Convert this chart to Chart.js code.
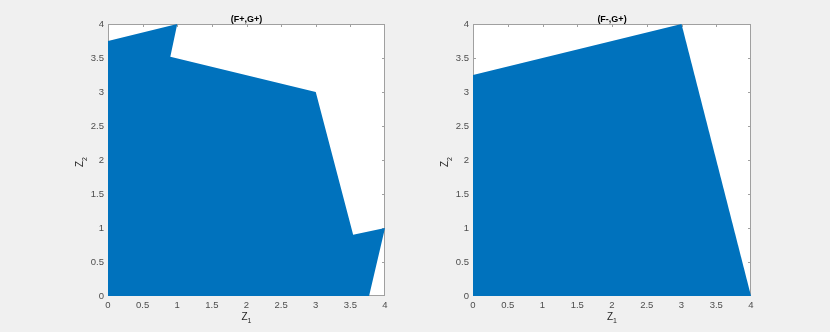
<!DOCTYPE html>
<html>
<head>
<meta charset="utf-8">
<script src="https://cdn.jsdelivr.net/npm/chart.js@4/dist/chart.umd.min.js"></script>
<style>
  html, body { margin: 0; padding: 0; background: #f0f0f0; }
  #wrap { position: relative; width: 830px; height: 332px; }
  #wrap canvas { position: absolute; top: 0; }
</style>
</head>
<body>
<div id="wrap">
  <canvas id="chartLeft" width="415" height="332" style="left:0"></canvas>
  <canvas id="chartRight" width="415" height="332" style="left:415px"></canvas>
</div>
<script>
// polygon corners (z1, z2)
const leftZ1 = [0, 1, 0.9, 3, 3.54, 4, 3.77, 0];
const leftZ2 = [3.75, 4, 3.52, 3, 0.9, 1, 0, 0];
const rightZ1 = [0, 3, 4, 0];
const rightZ2 = [3.25, 4, 0, 0];
const tickValues = [0, 0.5, 1, 1.5, 2, 2.5, 3, 3.5, 4];
const titles = ['(F+,G+)', '(F-,G+)'];

const FONT = "'Liberation Sans', Arial, Helvetica, sans-serif";
const BLUE = '#0072BD';
const TICK = 3;

/* ===== box, inward ticks, title and axis labels (matlab look) ===== */
const axesBoxPlugin = {
    id: 'axesBox',
    beforeDatasetsDraw(chart) {
        const { ctx, chartArea: a, scales } = chart;
        ctx.save();
        ctx.fillStyle = '#ffffff';
        ctx.fillRect(a.left, a.top, a.width, a.height);

        ctx.strokeStyle = '#a0a0a0';
        ctx.lineWidth = 1;
        ctx.strokeRect(a.left + 0.5, a.top + 0.5, a.width - 1, a.height - 1);

        ctx.beginPath();
        scales.x.ticks.forEach(t => {
            let px = Math.round(scales.x.getPixelForValue(t.value));
            px = Math.min(Math.max(px, a.left), a.right - 1) + 0.5;
            ctx.moveTo(px, a.bottom); ctx.lineTo(px, a.bottom - TICK);
            ctx.moveTo(px, a.top); ctx.lineTo(px, a.top + TICK);
        });
        scales.y.ticks.forEach(t => {
            let py = Math.round(scales.y.getPixelForValue(t.value));
            py = Math.min(Math.max(py, a.top), a.bottom - 1) + 0.5;
            ctx.moveTo(a.left, py); ctx.lineTo(a.left + TICK, py);
            ctx.moveTo(a.right, py); ctx.lineTo(a.right - TICK, py);
        });
        ctx.stroke();
        ctx.restore();
    },
    afterDraw(chart, args, opts) {
        const { ctx, chartArea: a } = chart;
        const cx = (a.left + a.right) / 2;
        const cy = (a.top + a.bottom) / 2;
        ctx.save();
        ctx.fillStyle = '#000000';
        ctx.textAlign = 'center';
        ctx.textBaseline = 'alphabetic';
        ctx.font = 'bold 9px ' + FONT;
        ctx.fillText(opts.title, cx, a.top - 2);

        // z_1 under the x axis
        ctx.fillStyle = '#262626';
        ctx.textAlign = 'left';
        ctx.font = '10px ' + FONT;
        const wZ = ctx.measureText('Z').width;
        ctx.font = '7px ' + FONT;
        const wSub = ctx.measureText('1').width;
        let x0 = cx - (wZ + wSub) / 2;
        ctx.font = '10px ' + FONT;
        ctx.fillText('Z', x0, a.bottom + 24);
        ctx.font = '7px ' + FONT;
        ctx.fillText('1', x0 + wZ, a.bottom + 27);

        // z_2 next to the y axis
        ctx.translate(a.left - 25, cy + 2);
        ctx.rotate(-Math.PI / 2);
        x0 = -(wZ + wSub) / 2;
        ctx.font = '10px ' + FONT;
        ctx.fillText('Z', x0, 0);
        ctx.font = '7px ' + FONT;
        ctx.fillText('2', x0 + wZ, 3.5);
        ctx.restore();
    }
};

function makeScale(axis, size) {
    return {
        type: 'linear',
        min: 0,
        max: 4,
        afterBuildTicks: scale => { scale.ticks = tickValues.map(v => ({ value: v })); },
        afterFit: scale => {
            if (axis === 'x') scale.height = size; else scale.width = size;
        },
        grid: { display: false, drawTicks: false },
        border: { display: false },
        ticks: {
            autoSkip: false,
            maxRotation: 0,
            padding: 4,
            color: '#4d4d4d',
            font: { family: FONT, size: 9.5 },
            callback: v => String(v)
        }
    };
}

function makeChart(id, z1, z2, title, yWidth, padRight) {
    const points = z1.map((v, i) => ({ x: v, y: z2[i] }));
    return new Chart(document.getElementById(id), {
        type: 'scatter',
        data: {
            datasets: [{
                data: points,
                showLine: true,
                fill: 'shape',
                backgroundColor: BLUE,
                borderColor: 'rgba(0,0,0,0)',
                borderWidth: 0,
                pointRadius: 0,
                pointHoverRadius: 0,
                tension: 0
            }]
        },
        options: {
            responsive: false,
            animation: false,
            devicePixelRatio: 1,
            layout: { padding: { left: 0, top: 24, right: padRight, bottom: 0 } },
            plugins: {
                legend: { display: false },
                tooltip: { enabled: false },
                axesBox: { title: title }
            },
            scales: {
                x: makeScale('x', 36),
                y: makeScale('y', yWidth)
            }
        },
        plugins: [axesBoxPlugin]
    });
}

makeChart('chartLeft', leftZ1, leftZ2, titles[0], 108, 30);
makeChart('chartRight', rightZ1, rightZ2, titles[1], 58, 79);
</script>
</body>
</html>
